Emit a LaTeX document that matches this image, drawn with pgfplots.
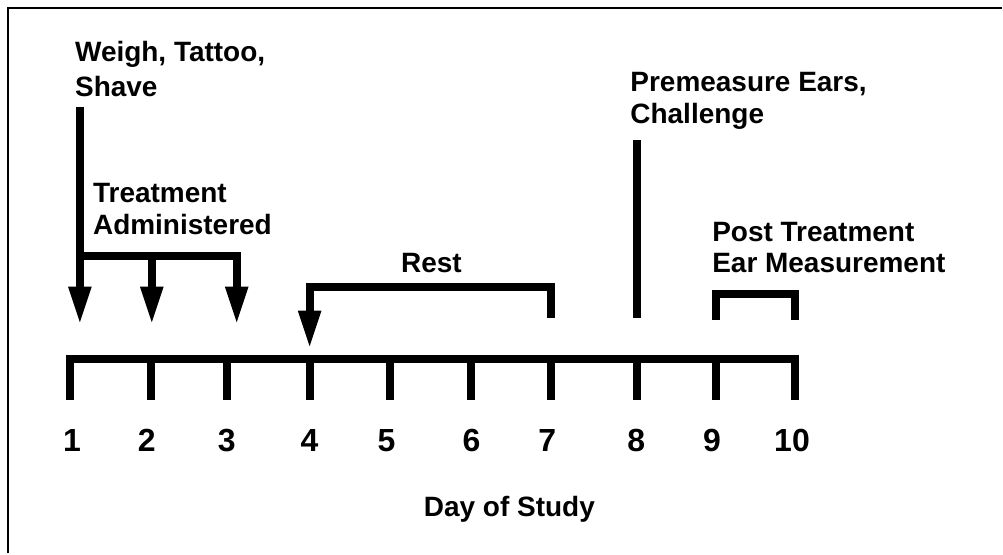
\documentclass[border=0pt]{standalone}
\usepackage{pgfplots}
\pgfplotsset{compat=1.18}
\usepackage{fontspec}
\setmainfont{Liberation Sans}
\usetikzlibrary{arrows.meta}

\begin{document}
\begin{tikzpicture}[
    thk/.style={black, line width=8pt, line join=miter, line cap=butt, mark=none},
    arr/.style={thk, -{Triangle[width=21pt,length=38pt]}},
    lbl/.style={font=\fontsize{28}{33}\selectfont\bfseries, inner sep=0pt, anchor=base west},
    day/.style={font=\fontsize{32}{38}\selectfont\bfseries, inner sep=0pt, anchor=base},
]
\begin{axis}[
    x=1pt, y=1pt, y dir=reverse,
    xmin=0, xmax=1003, ymin=0, ymax=554,
    axis line style={draw=none}, xtick=\empty, ytick=\empty,
    clip=false,
    unbounded coords=jump,
]
% frame (top and left only)
\addplot[black, line width=2.5pt, line join=miter, mark=none] coordinates {(8,554) (8,8) (1003,8)};

% timeline with day ticks
\addplot[thk] coordinates {(70,400) (70,359) (796,359) (796,400)};
\addplot[thk] coordinates {
    (151,359) (151,400) (151,nan)
    (227,359) (227,400) (227,nan)
    (310,359) (310,400) (310,nan)
    (390,359) (390,400) (390,nan)
    (472,359) (472,400) (472,nan)
    (552,359) (552,400) (552,nan)
    (638,359) (638,400) (638,nan)
    (717,359) (717,400)};

% weigh / treatment
\addplot[arr] coordinates {(80,107) (80,325)};
\addplot[arr] coordinates {(80,256) (237,256) (237,325)};
\addplot[arr] coordinates {(152,256) (152,325)};

% rest
\addplot[arr] coordinates {(552,318) (552,287) (310,287) (310,349)};

% premeasure
\addplot[thk] coordinates {(638,140) (638,318)};

% post treatment
\addplot[thk] coordinates {(717,320) (717,294) (796,294) (796,320)};

% annotations
\node[lbl] at (axis cs:75,62) {Weigh, Tattoo,};
\node[lbl] at (axis cs:75,97) {Shave};
\node[lbl] at (axis cs:93,203) {Treatment};
\node[lbl] at (axis cs:93,235) {Administered};
\node[lbl, anchor=base] at (axis cs:432,273) {Rest};
\node[lbl] at (axis cs:631,92) {Premeasure Ears,};
\node[lbl] at (axis cs:631,124) {Challenge};
\node[lbl] at (axis cs:713,242) {Post Treatment};
\node[lbl] at (axis cs:713,273) {Ear Measurement};

% day labels
\node[day] at (axis cs:72,452) {1};
\node[day] at (axis cs:147,452) {2};
\node[day] at (axis cs:227,452) {3};
\node[day] at (axis cs:310,452) {4};
\node[day] at (axis cs:387,452) {5};
\node[day] at (axis cs:472,452) {6};
\node[day] at (axis cs:548,452) {7};
\node[day] at (axis cs:637,452) {8};
\node[day] at (axis cs:713,452) {9};
\node[day] at (axis cs:793,452) {10};
\node[lbl, anchor=base] at (axis cs:510,517) {Day of Study};
\end{axis}
\end{tikzpicture}
\end{document}
